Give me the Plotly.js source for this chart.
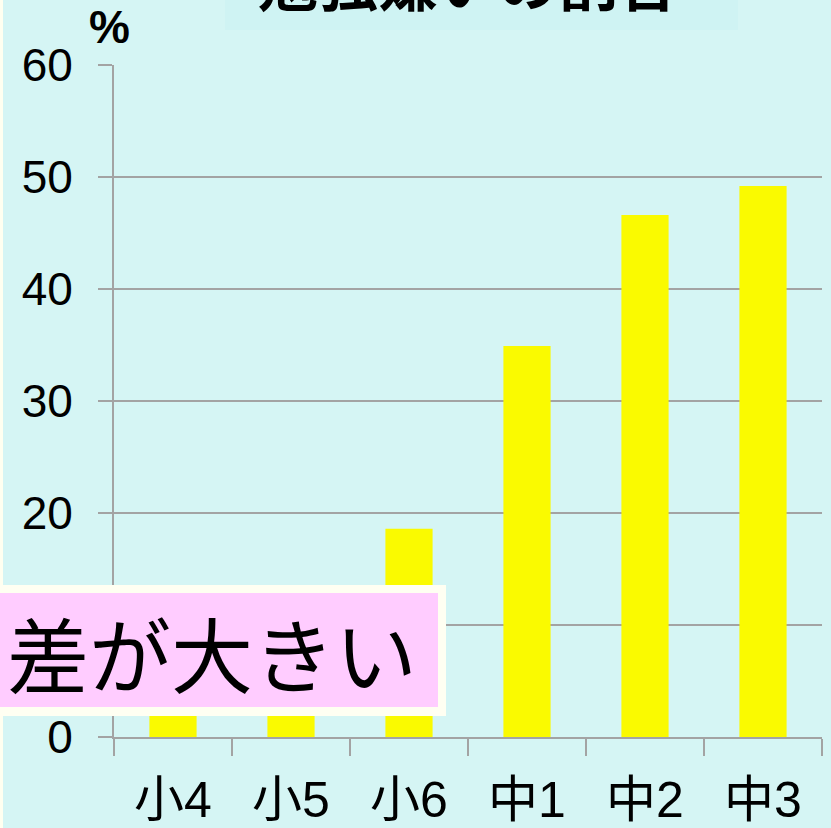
<!DOCTYPE html>
<html>
<head>
<meta charset="utf-8">
<script src="https://cdn.plot.ly/plotly-3.0.1.min.js"></script>
<style>html,body{margin:0;padding:0;background:#d5f5f4;}</style>
</head>
<body>
<div id="chart" style="width:831px;height:828px;"></div>
<script>
const categories = ["小4", "小5", "小6", "中1", "中2", "中3"];
const values = [8.9, 10.6, 18.6, 34.9, 46.6, 49.2];
const yTicks = [0, 10, 20, 30, 40, 50, 60];
const titleText = "勉強嫌いの割合";
const unitText = "%";
const calloutText = "差が大きい";

const W = 831, H = 828;
const L = 114, R = 9, T = 65, B = 91;
const pw = W - L - R, ph = H - T - B;
const px = v => (v - L) / pw;
const py = v => (H - B - v) / ph;

const bg = "#d5f5f4";
const gridC = "#a3a3a3";

const trace = {
  type: "bar",
  x: categories,
  y: values,
  marker: { color: "#fafa00", line: { width: 0 } },
  hoverinfo: "skip"
};

const layout = {
  width: W, height: H,
  margin: { l: L, r: R, t: T, b: B, pad: 0 },
  paper_bgcolor: bg,
  plot_bgcolor: bg,
  showlegend: false,
  bargap: 0.6,
  font: { family: "Liberation Sans, Arial, Noto Sans CJK JP", color: "#000" },
  xaxis: {
    type: "category",
    tickson: "boundaries",
    ticks: "outside", ticklen: 17, tickwidth: 2, tickcolor: gridC,
    showline: true, linecolor: gridC, linewidth: 2,
    showgrid: false, zeroline: false,
    tickfont: { size: 50, family: "Liberation Sans, Noto Sans CJK JP", color: "#000" },
    ticklabelstandoff: 18
  },
  yaxis: {
    range: [0, 60],
    tickvals: yTicks,
    ticktext: yTicks.map(String),
    ticks: "outside", ticklen: 14, tickwidth: 2, tickcolor: gridC,
    showline: true, linecolor: gridC, linewidth: 2,
    showgrid: true, gridcolor: gridC, gridwidth: 2,
    zeroline: false,
    tickfont: { size: 46, family: "Liberation Sans, Arial", color: "#000" },
    ticklabelstandoff: 16
  },
  shapes: [
    { type: "rect", xref: "paper", yref: "paper", layer: "above",
      x0: px(0), x1: px(3), y0: py(0), y1: py(H), fillcolor: "#fffff0", line: { width: 0 } },
    { type: "rect", xref: "paper", yref: "paper", layer: "below",
      x0: px(225), x1: px(738), y0: py(0), y1: py(30), fillcolor: "#cff3f3", line: { width: 0 } },
    { type: "rect", xref: "paper", yref: "paper", layer: "above",
      x0: px(0), x1: px(446), y0: py(716), y1: py(585), fillcolor: "#fffff2", line: { width: 0 } },
    { type: "rect", xref: "paper", yref: "paper", layer: "above",
      x0: px(0), x1: px(438), y0: py(707), y1: py(593), fillcolor: "#ffccff", line: { width: 0 } }
  ],
  annotations: [
    { text: unitText, xref: "paper", yref: "paper", x: px(109), y: py(27),
      xanchor: "center", yanchor: "middle", showarrow: false,
      font: { size: 46, family: "Liberation Sans, Arial", weight: "bold", color: "#000" } },
    { text: "<b>" + titleText + "</b>", xref: "paper", yref: "paper", x: px(468), y: py(-21),
      xanchor: "center", yanchor: "middle", showarrow: false,
      font: { size: 60, family: "Noto Sans CJK JP", color: "#000" } },
    { text: calloutText, xref: "paper", yref: "paper", x: px(212), y: py(651),
      xanchor: "center", yanchor: "middle", showarrow: false,
      font: { size: 82, family: "Noto Sans CJK JP", color: "#000" } }
  ]
};

Plotly.newPlot("chart", [trace], layout, { displayModeBar: false, staticPlot: true });
</script>
</body>
</html>
